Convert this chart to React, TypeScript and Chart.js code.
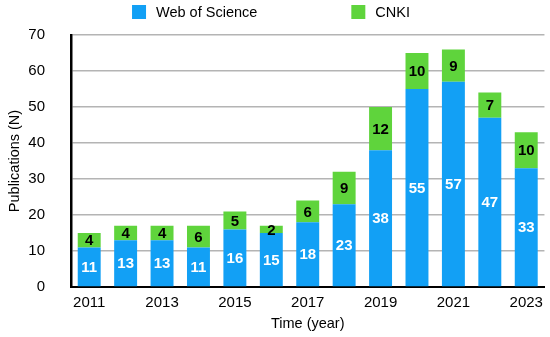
import React, { useEffect, useRef } from 'react';
import { Chart, registerables } from 'chart.js';

Chart.register(...registerables);

const years = ['2011', '2012', '2013', '2014', '2015', '2016', '2017', '2018', '2019', '2020', '2021', '2022', '2023'];
const wosValues = [11, 13, 13, 11, 16, 15, 18, 23, 38, 55, 57, 47, 33];
const cnkiValues = [4, 4, 4, 6, 5, 2, 6, 9, 12, 10, 9, 7, 10];
const seriesNames = ['Web of Science', 'CNKI'];

const BLUE = '#12a0f5';
const GREEN = '#5fd43c';
const FONT = '"Liberation Sans", Arial, Helvetica, sans-serif';

const barLabels = {
  id: 'barLabels',
  afterDatasetsDraw(chart: any) {
    const ctx = chart.ctx;
    ctx.save();
    ctx.font = `bold 15px ${FONT}`;
    ctx.textAlign = 'center';
    ctx.textBaseline = 'middle';
    chart.data.datasets.forEach((ds: any, di: number) => {
      const meta = chart.getDatasetMeta(di);
      ctx.fillStyle = di === 0 ? '#ffffff' : '#000000';
      meta.data.forEach((el: any, i: number) => {
        const cy = (el.y + el.base) / 2;
        ctx.fillText(String(ds.data[i]), el.x, cy + 1);
      });
    });
    ctx.restore();
  },
};

const customLegend = {
  id: 'customLegend',
  afterDraw(chart: any) {
    const ctx = chart.ctx;
    ctx.save();
    ctx.font = `14.5px ${FONT}`;
    ctx.textBaseline = 'middle';
    ctx.textAlign = 'left';
    const box = 14;
    const gapBoxText = 10;
    const itemGap = 94;
    const colors = [BLUE, GREEN];
    const widths = seriesNames.map((n) => ctx.measureText(n).width);
    const total = widths.reduce((a, w) => a + box + gapBoxText + w, 0) + itemGap * (seriesNames.length - 1);
    let x = chart.width / 2 - 4 - total / 2;
    const cy = 12;
    seriesNames.forEach((n, i) => {
      ctx.fillStyle = colors[i];
      ctx.fillRect(x, cy - box / 2, box, box);
      ctx.fillStyle = '#000';
      ctx.fillText(n, x + box + gapBoxText, cy + 1);
      x += box + gapBoxText + widths[i] + itemGap;
    });
    ctx.restore();
  },
};

export default function App() {
  const ref = useRef<HTMLCanvasElement | null>(null);
  useEffect(() => {
    document.body.style.margin = '0';
    const chart = new Chart(ref.current as HTMLCanvasElement, {
      type: 'bar',
      data: {
        labels: years,
        datasets: [
          { label: seriesNames[0], data: wosValues, backgroundColor: BLUE, barPercentage: 0.63, categoryPercentage: 1 },
          { label: seriesNames[1], data: cnkiValues, backgroundColor: GREEN, barPercentage: 0.63, categoryPercentage: 1 },
        ],
      },
      options: {
        animation: false,
        responsive: false,
        maintainAspectRatio: false,
        layout: { padding: { top: 35, right: 2, left: 4, bottom: 0 } },
        plugins: { legend: { display: false }, tooltip: { enabled: false } },
        scales: {
          x: {
            stacked: true,
            grid: { display: false, drawTicks: false },
            border: { color: '#000', width: 2 },
            ticks: {
              autoSkip: false,
              maxRotation: 0,
              padding: 7,
              color: '#000',
              font: { family: FONT, size: 15 },
              callback: (_v: any, i: number) => (i % 2 === 0 ? years[i] : ''),
            },
            title: {
              display: true,
              text: 'Time (year)',
              color: '#000',
              font: { family: FONT, size: 14.5 },
              padding: { top: 4, bottom: 4 },
            },
            afterFit: (s: any) => { s.height = 50; },
          },
          y: {
            stacked: true,
            min: 0,
            max: 70,
            grid: { color: '#b4b4b4', lineWidth: 1.5, drawTicks: false },
            border: { color: '#000', width: 2.5 },
            ticks: {
              stepSize: 10,
              padding: 26,
              color: '#000',
              font: { family: FONT, size: 15 },
            },
            title: {
              display: true,
              text: 'Publications (N)',
              color: '#000',
              font: { family: FONT, size: 14.5 },
              padding: { top: 2, bottom: 4 },
            },
            afterFit: (s: any) => { s.width = 67; },
          },
        },
      },
      plugins: [barLabels, customLegend],
    });
    return () => chart.destroy();
  }, []);
  return (
    <div style={{ position: 'absolute', left: 0, top: 0, width: 550, height: 337 }}>
      <canvas ref={ref} width={550} height={337} style={{ display: 'block', width: 550, height: 337 }} />
    </div>
  );
}
